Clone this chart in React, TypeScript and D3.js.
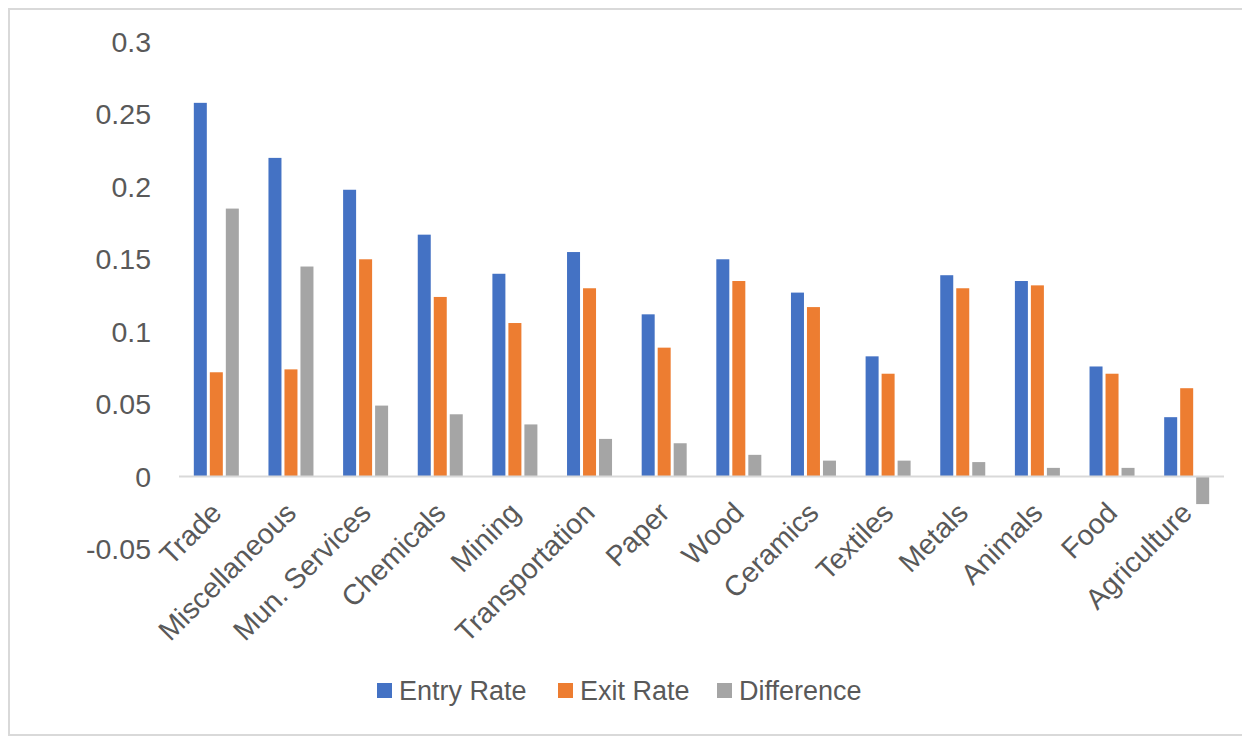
import React from "react";
import * as d3 from "d3";

const categories = ["Trade", "Miscellaneous", "Mun. Services", "Chemicals", "Mining", "Transportation", "Paper", "Wood", "Ceramics", "Textiles", "Metals", "Animals", "Food", "Agriculture"];
const entryRate = [0.258, 0.220, 0.198, 0.167, 0.140, 0.155, 0.112, 0.150, 0.127, 0.083, 0.139, 0.135, 0.076, 0.041];
const exitRate = [0.072, 0.074, 0.150, 0.124, 0.106, 0.130, 0.089, 0.135, 0.117, 0.071, 0.130, 0.132, 0.071, 0.061];
const difference = [0.185, 0.145, 0.049, 0.043, 0.036, 0.026, 0.023, 0.015, 0.011, 0.011, 0.010, 0.006, 0.006, -0.019];
const yTicks = [-0.05, 0, 0.05, 0.1, 0.15, 0.2, 0.25, 0.3];
const seriesNames = ["Entry Rate", "Exit Rate", "Difference"];
const colors = ["#4472C4", "#ED7D31", "#A5A5A5"];

const W = 1242;
const H = 728;
const FONT = "'Liberation Sans', Arial, Helvetica, sans-serif";
const TEXT = "#595959";

export default function App() {
  const series = [entryRate, exitRate, difference];
  const x = d3.scaleBand<string>().domain(categories).range([171, 1216]).paddingInner(0).paddingOuter(0);
  const y = d3.scaleLinear().domain([-0.05, 0.3]).range([541, 34]);
  const barW = 13;
  const step = 16;
  const groupW = barW + step * 2;

  const legendItems = [
    { name: seriesNames[0], x: 369 },
    { name: seriesNames[1], x: 550 },
    { name: seriesNames[2], x: 709 },
  ];

  return (
    <svg width={W} height={H} style={{ display: "block", overflow: "hidden" }} fontFamily={FONT}>
      <rect x={0} y={0} width={W} height={H} fill="#fff" />
      <path d={`M${W + 5},1 H1 V${H - 1} H${W + 5}`} fill="none" stroke="#D9D9D9" strokeWidth={2} />
      {/* y tick labels */}
      {yTicks.map((t) => (
        <text key={t} x={143} y={y(t)} textAnchor="end" dominantBaseline="central" fontSize={28.5} fill={TEXT}>
          {t < 0 ? "-" + String(Math.abs(t)) : String(t)}
        </text>
      ))}
      {/* bars */}
      {categories.map((c, i) => {
        const cx = (x(c) as number) + x.bandwidth() / 2;
        const x0 = cx - groupW / 2;
        return (
          <g key={c}>
            {series.map((s, j) => {
              const v = s[i];
              const y0 = y(Math.max(0, v));
              const h = Math.abs(y(v) - y(0));
              return (
                <rect key={j} x={x0 + j * step} y={y0} width={barW} height={h} fill={colors[j]} />
              );
            })}
          </g>
        );
      })}
      {/* zero axis */}
      <line x1={171} x2={1216} y1={y(0)} y2={y(0)} stroke="#D9D9D9" strokeWidth={2} />
      {/* category labels */}
      {categories.map((c) => {
        const cx = (x(c) as number) + x.bandwidth() / 2;
        const ax = cx + 7;
        const ay = y(0) + 38;
        return (
          <text key={c} x={ax} y={ay} transform={`rotate(-45 ${ax} ${ay})`} textAnchor="end" fontSize={28.5} fill={TEXT}>
            {c}
          </text>
        );
      })}
      {/* legend */}
      {legendItems.map((it, j) => (
        <g key={it.name}>
          <rect x={it.x} y={675} width={15} height={15} fill={colors[j]} />
          <text x={it.x + 22} y={683} dominantBaseline="central" fontSize={27} fill={TEXT}>
            {it.name}
          </text>
        </g>
      ))}
    </svg>
  );
}
